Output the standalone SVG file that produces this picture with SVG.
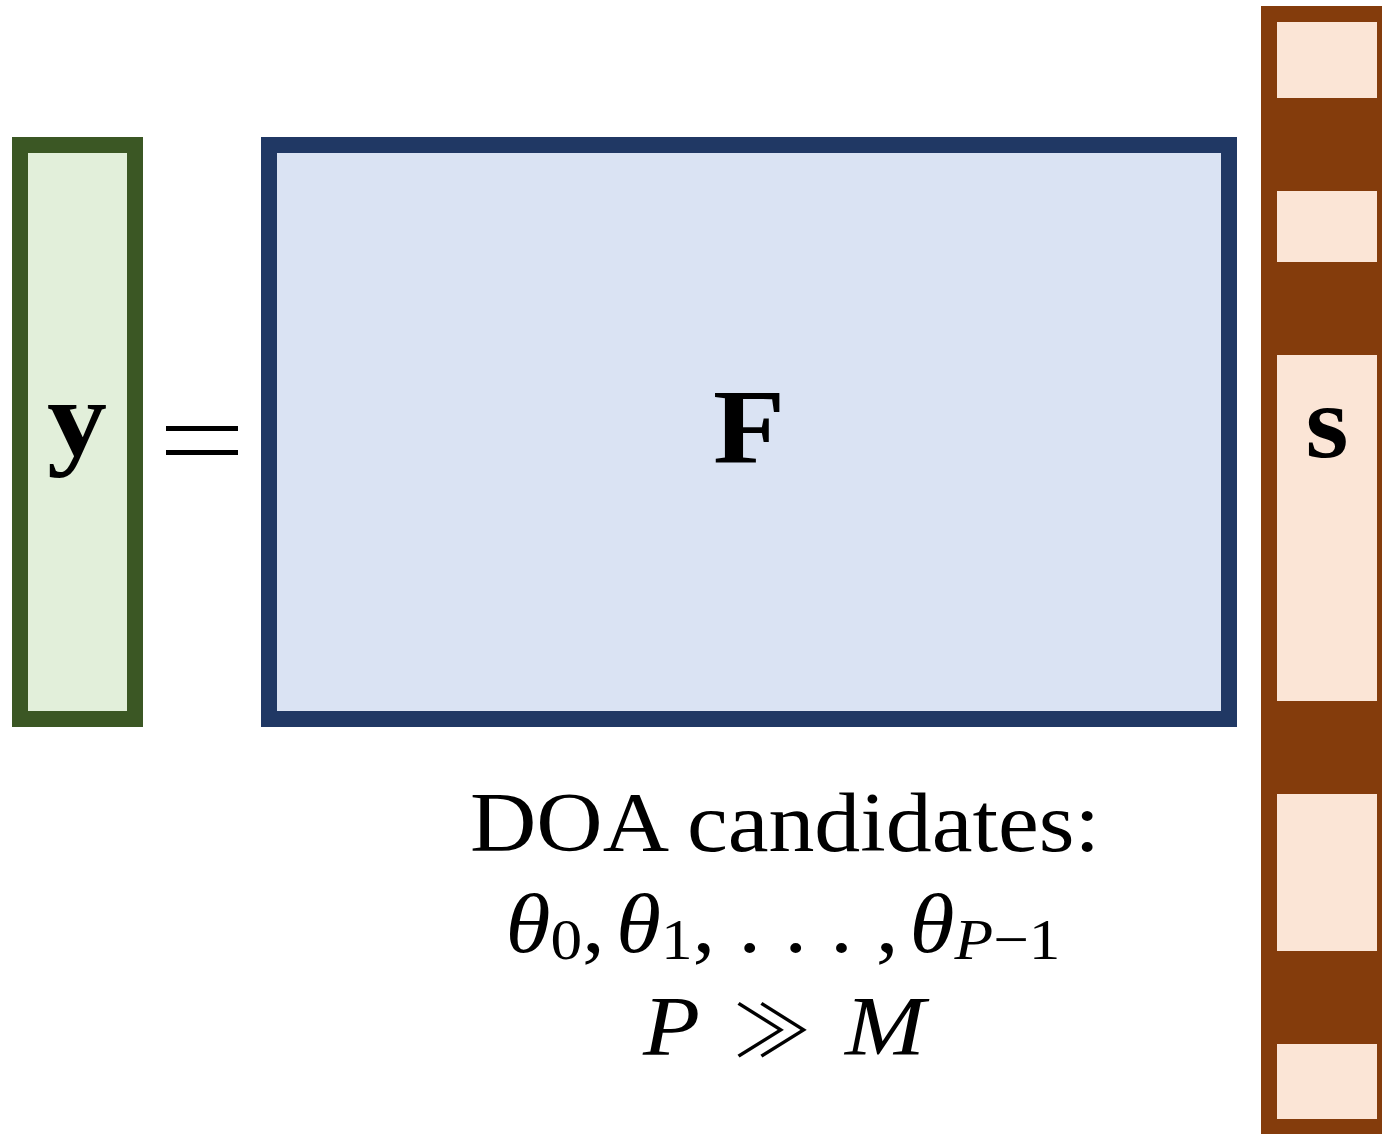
<svg xmlns="http://www.w3.org/2000/svg" width="1382" height="1134" viewBox="0 0 1382 1134">
<style>
.serif{font-family:"Liberation Serif","DejaVu Serif",serif;fill:#000}
.b{font-weight:bold}
.i{font-style:italic}
.cell{fill:#FBE5D6}
</style>
<rect width="1382" height="1134" fill="#fff"/>
<g id="y-vector">
<rect x="20" y="145" width="115" height="574" fill="#E2EFDA" stroke="#3B5724" stroke-width="16"/>
<text class="serif b" x="77" y="455" font-size="108" text-anchor="middle" textLength="60" lengthAdjust="spacingAndGlyphs">y</text>
</g>
<g id="equals">
<rect x="166" y="426" width="72" height="5" fill="#000"/>
<rect x="166" y="450" width="72" height="5" fill="#000"/>
</g>
<g id="F-matrix">
<rect x="269" y="145" width="960" height="574" fill="#DAE3F3" stroke="#203864" stroke-width="16"/>
<text class="serif b" x="749" y="463" font-size="106" text-anchor="middle" textLength="72" lengthAdjust="spacingAndGlyphs">F</text>
</g>
<g id="s-vector">
<rect x="1261" y="6" width="140" height="1140" fill="#843C0C"/>
<rect class="cell" x="1277" y="22" width="100" height="76"/>
<rect class="cell" x="1277" y="191" width="100" height="71"/>
<rect class="cell" x="1277" y="355" width="100" height="346"/>
<rect class="cell" x="1277" y="794" width="100" height="157"/>
<rect class="cell" x="1277" y="1044" width="100" height="75"/>
<text class="serif b" x="1327" y="457" font-size="104" text-anchor="middle" textLength="43" lengthAdjust="spacingAndGlyphs">s</text>
</g>
<g id="caption">
<text class="serif" x="785" y="851" font-size="84" text-anchor="middle" textLength="630" lengthAdjust="spacingAndGlyphs">DOA candidates:</text>
<text class="serif" x="783" y="952" font-size="84" text-anchor="middle" textLength="555" lengthAdjust="spacingAndGlyphs"><tspan class="i">θ</tspan><tspan font-size="58" dy="7">0</tspan><tspan dy="-7">,</tspan><tspan class="i" dx="10">θ</tspan><tspan font-size="58" dy="7">1</tspan><tspan dy="-7">, . . . ,</tspan><tspan class="i" dx="10">θ</tspan><tspan font-size="58" dy="7" class="i">P</tspan><tspan font-size="58">−1</tspan></text>
<text class="serif i" x="643" y="1055" font-size="84" textLength="57" lengthAdjust="spacingAndGlyphs">P</text>
<text x="772" y="1056" font-size="72" font-family="Noto Sans CJK SC, DejaVu Serif, serif" font-weight="300" text-anchor="middle" textLength="80" lengthAdjust="spacingAndGlyphs">≫</text>
<text class="serif i" x="925" y="1055" font-size="84" text-anchor="end" textLength="80" lengthAdjust="spacingAndGlyphs">M</text>
</g>
</svg>
